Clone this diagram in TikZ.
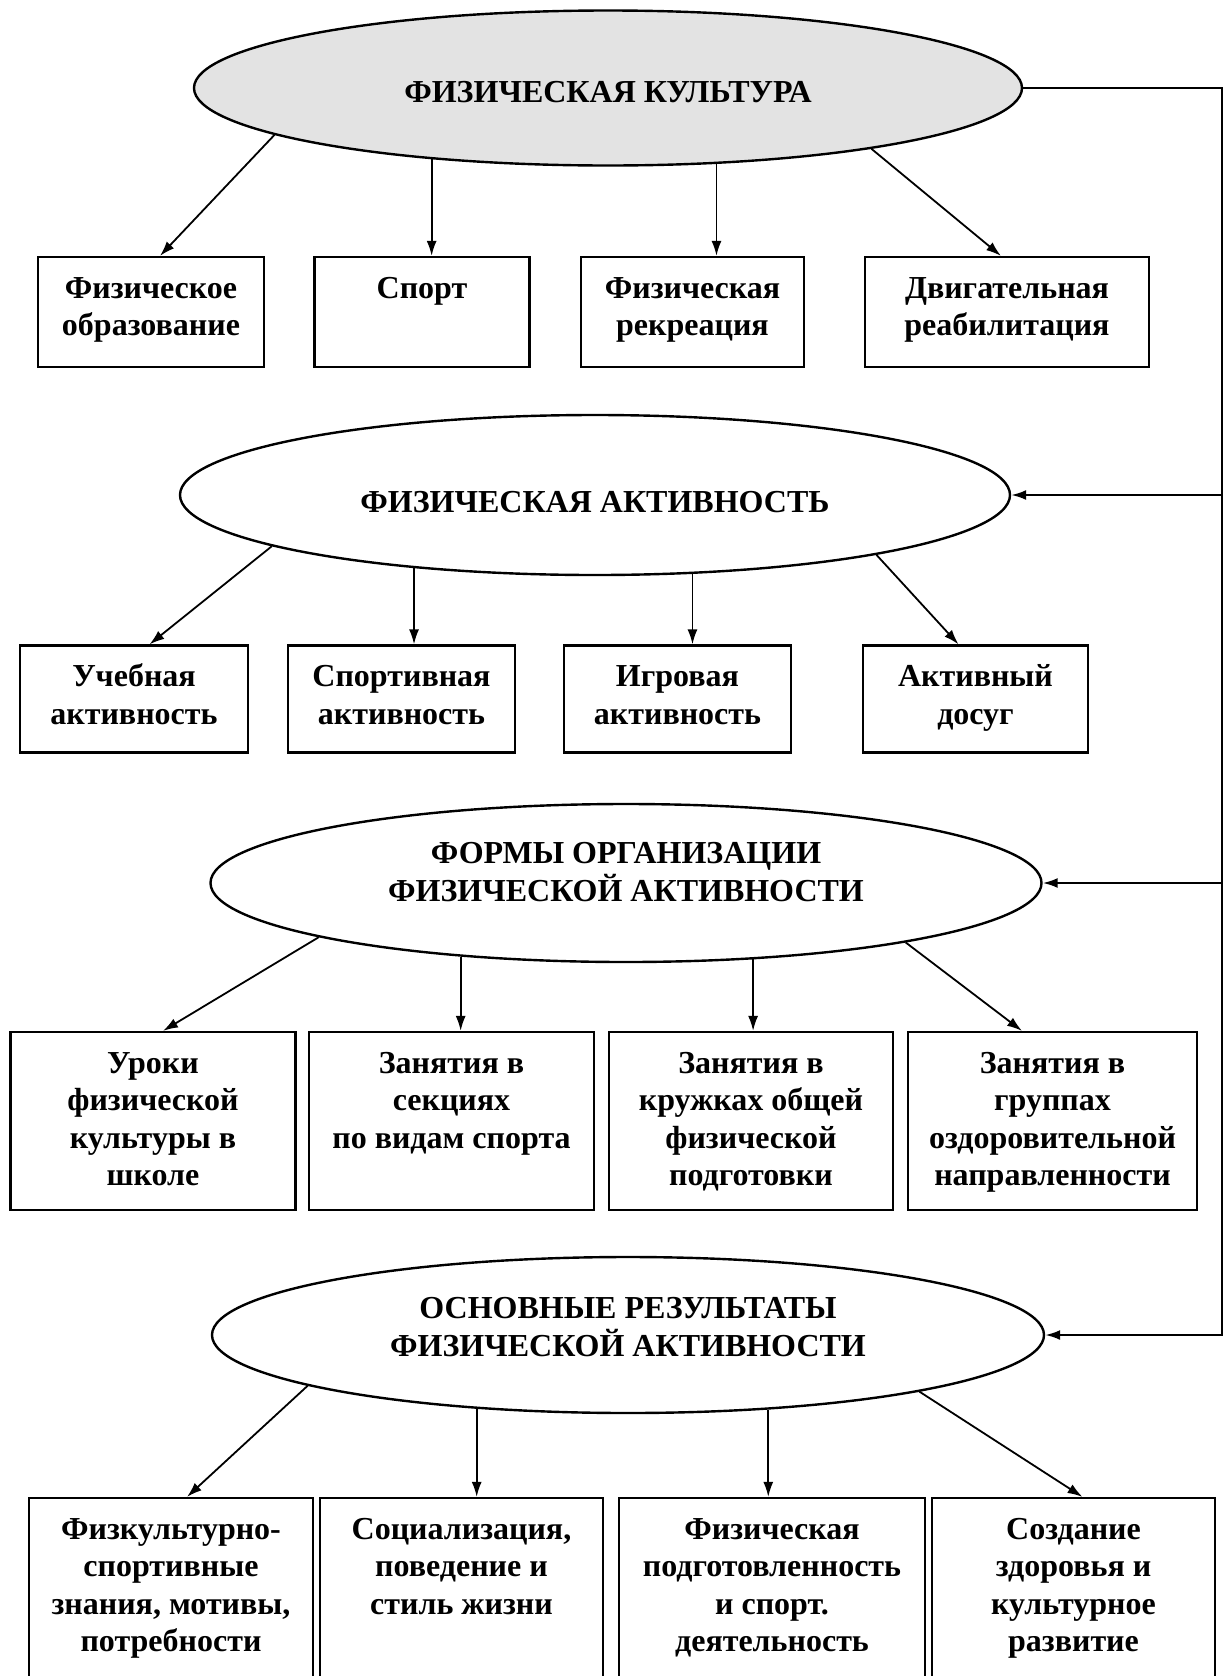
\documentclass[tikz,border=0pt]{standalone}
\usepackage{fontspec}
\setmainfont{Liberation Serif}
\usetikzlibrary{arrows.meta,shapes.geometric}
\newcommand{\bxt}[3]{\parbox[c][#2][t]{#1}{\centering\rule{0pt}{41pt}#3}}
\tikzset{
  every node/.style={font=\bfseries\fontsize{32}{37.5}\selectfont},
  ell/.style={ellipse, draw, line width=2.4pt, minimum width=830pt, minimum height=158pt, inner sep=0pt},
  etxt/.style={align=center, inner sep=0pt},
  bx/.style={draw, line width=2.2pt, inner sep=0pt},
  arr/.style={line width=1.8pt, -{Latex[length=15pt,width=10pt]}},
  conn/.style={line width=2.2pt}
}
\begin{document}
\begin{tikzpicture}[x=1pt,y=-1pt]
\useasboundingbox (0,0) rectangle (1228,1676);
\clip (0,0) rectangle (1228,1676);
\fill[white] (0,0) rectangle (1228,1676);

% ellipses
\node[ell, fill=black!11, minimum width=828pt, minimum height=155pt] (e1) at (608,88) {};
\node[ell, minimum height=160pt] (e2) at (595,495) {};
\node[ell, minimum width=831pt] (e3) at (626,883) {};
\node[ell, minimum width=832pt, minimum height=156pt] (e4) at (628,1335) {};
\node[etxt] (t1) at ([yshift=-4pt]e1.center) {ФИЗИЧЕСКАЯ КУЛЬТУРА};
\node[etxt] (t2) at ([yshift=-7pt]e2.center) {ФИЗИЧЕСКАЯ АКТИВНОСТЬ};
\node[etxt] (t3) at ([yshift=11pt]e3.center) {ФОРМЫ ОРГАНИЗАЦИИ\\ФИЗИЧЕСКОЙ АКТИВНОСТИ};
\node[etxt] (t4) at ([yshift=8pt]e4.center) {ОСНОВНЫЕ РЕЗУЛЬТАТЫ\\ФИЗИЧЕСКОЙ АКТИВНОСТИ};

% row 1
\node[bx] (b11) at (151,312) {\bxt{226pt}{110pt}{Физическое\\образование}};
\node[bx] (b12) at (422,312) {\bxt{215pt}{110pt}{Спорт}};
\node[bx] (b13) at (692.5,312) {\bxt{223pt}{110pt}{Физическая\\рекреация}};
\node[bx] (b14) at (1007,312) {\bxt{284pt}{110pt}{Двигательная\\реабилитация}};

% row 2
\node[bx] (b21) at (134,699) {\bxt{228pt}{107pt}{Учебная\\активность}};
\node[bx] (b22) at (401.5,699) {\bxt{227pt}{107pt}{Спортивная\\активность}};
\node[bx] (b23) at (677.5,699) {\bxt{227pt}{107pt}{Игровая\\активность}};
\node[bx] (b24) at (975.5,699) {\bxt{225pt}{107pt}{Активный\\досуг}};

% row 3
\node[bx] (b31) at (153,1121) {\bxt{285pt}{178pt}{Уроки\\физической\\культуры в\\школе}};
\node[bx] (b32) at (451.5,1121) {\bxt{285pt}{178pt}{Занятия в\\секциях\\по видам спорта}};
\node[bx] (b33) at (751,1121) {\bxt{284pt}{178pt}{Занятия в\\кружках общей\\физической\\подготовки}};
\node[bx] (b34) at (1052.5,1121) {\bxt{289pt}{178pt}{Занятия в\\группах\\оздоровительной\\направленности}};

% row 4
\node[bx] (b41) at (171,1599) {\bxt{284pt}{202pt}{Физкультурно-\\спортивные\\знания, мотивы,\\потребности}};
\node[bx] (b42) at (461.5,1599) {\bxt{283pt}{202pt}{Социализация,\\поведение и\\стиль жизни}};
\node[bx] (b43) at (772,1599) {\bxt{306pt}{202pt}{Физическая\\подготовленность\\и спорт.\\деятельность}};
\node[bx] (b44) at (1073.5,1599) {\bxt{283pt}{202pt}{Создание\\здоровья и\\культурное\\развитие}};

% arrows row 1
\draw[arr] (e1.188) -- ([xshift=9pt]b11.north);
\draw[arr] (e1.202) -- (e1.202 |- b12.north);
\draw[arr] (e1.325.5) -- (e1.325.5 |- b13.north);
\draw[arr] (e1.347) -- ([xshift=-6pt]b14.north);

% arrows row 2
\draw[arr] (e2.189.8) -- ([xshift=15.5pt]b21.north);
\draw[arr] (e2.202.9) -- (e2.202.9 |- b22.north);
\draw[arr] (e2.321.6) -- (e2.321.6 |- b23.north);
\draw[arr] (e2.348.5) -- ([xshift=-17pt]b24.north);

% arrows row 3
\draw[arr] (e3.190.7) -- ([xshift=10pt]b31.north);
\draw[arr] (e3.204.7) -- (e3.204.7 |- b32.north);
\draw[arr] (e3.329.1) -- (e3.329.1 |- b33.north);
\draw[arr] (e3.348.3) -- ([xshift=-30.5pt]b34.north);

% arrows row 4
\draw[arr] (e4.189.8) -- ([xshift=16pt]b41.north);
\draw[arr] (e4.206.2) -- (e4.206.2 |- b42.north);
\draw[arr] (e4.332.9) -- (e4.332.9 |- b43.north);
\draw[arr] (e4.349.3) -- ([xshift=9pt]b44.north);

% right feedback line
\coordinate (c1) at (1222,88);
\draw[conn, -{Latex[length=15pt,width=10pt]}] (e1.east) -- (c1) -- (e4.east -| c1) -- (e4.east);
\draw[conn, -{Latex[length=15pt,width=10pt]}] (e2.east -| c1) -- (e2.east);
\draw[conn, -{Latex[length=15pt,width=10pt]}] (e3.east -| c1) -- (e3.east);
\end{tikzpicture}
\end{document}
